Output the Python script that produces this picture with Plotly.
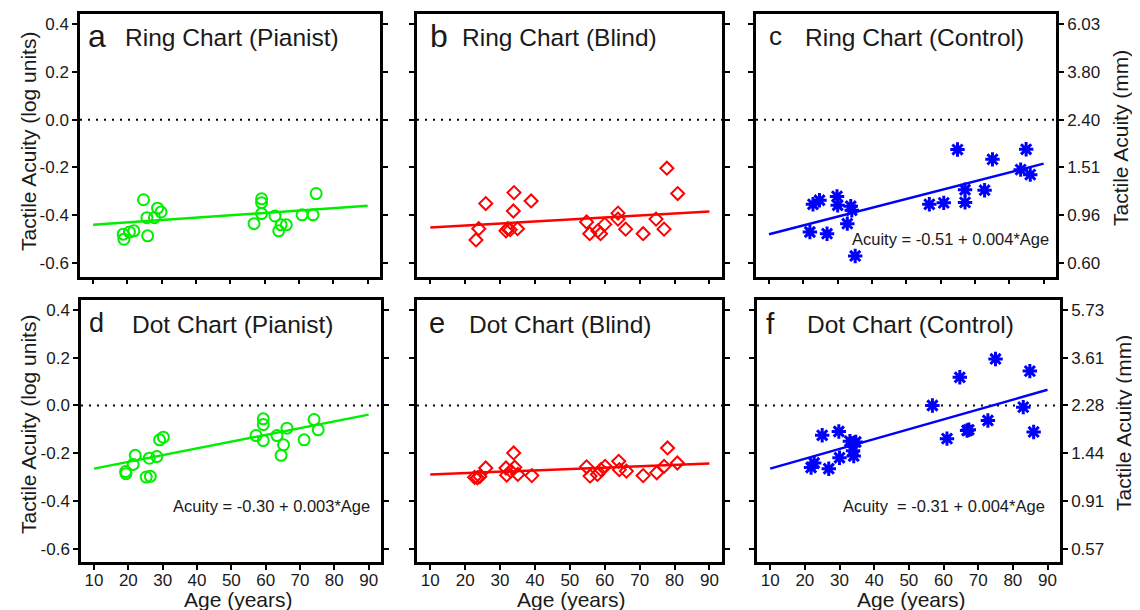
import plotly.graph_objects as go

# ---------------- data ----------------
a_age = [18.8, 19.0, 20.6, 21.9, 24.7, 25.7, 25.9, 27.9, 28.8, 29.8, 56.9, 59.1, 59.1, 59.1, 63.0, 64.1, 64.8, 66.3, 70.9, 74.1, 75.0]
a_acuity = [-0.479, -0.500, -0.470, -0.465, -0.335, -0.410, -0.486, -0.410, -0.370, -0.386, -0.435, -0.331, -0.347, -0.393, -0.403, -0.465, -0.440, -0.440, -0.398, -0.398, -0.309]

b_age = [23.1, 23.9, 25.9, 31.7, 32.2, 32.9, 33.8, 34.0, 35.0, 38.9, 54.8, 55.7, 58.0, 58.8, 60.0, 63.8, 63.8, 66.0, 71.0, 74.7, 77.0, 77.8, 80.9]
b_acuity = [-0.503, -0.456, -0.351, -0.465, -0.456, -0.460, -0.382, -0.305, -0.456, -0.340, -0.428, -0.477, -0.465, -0.477, -0.438, -0.391, -0.416, -0.458, -0.477, -0.416, -0.458, -0.203, -0.309]

c_age = [21.9, 22.8, 24.7, 26.9, 29.8, 30.0, 32.8, 33.8, 34.1, 35.1, 56.7, 60.9, 64.9, 67.1, 67.1, 72.8, 75.1, 83.3, 84.9, 86.1]
c_acuity = [-0.470, -0.354, -0.337, -0.477, -0.321, -0.358, -0.435, -0.362, -0.379, -0.570, -0.354, -0.348, -0.125, -0.293, -0.346, -0.295, -0.166, -0.209, -0.124, -0.230]

d_age = [19.2, 19.3, 21.4, 22.0, 25.2, 26.4, 26.1, 28.3, 29.1, 30.2, 57.2, 59.3, 59.3, 59.3, 63.3, 64.5, 65.2, 66.2, 71.2, 74.1, 75.3]
d_acuity = [-0.277, -0.286, -0.247, -0.209, -0.300, -0.297, -0.221, -0.214, -0.144, -0.133, -0.126, -0.056, -0.080, -0.147, -0.126, -0.209, -0.165, -0.095, -0.144, -0.059, -0.102]

e_age = [22.7, 23.5, 24.2, 25.9, 31.7, 31.9, 33.1, 33.9, 34.2, 35.1, 39.1, 54.8, 55.8, 57.9, 58.9, 60.1, 64.0, 64.2, 66.2, 71.0, 74.9, 77.0, 78.0, 80.8]
e_acuity = [-0.301, -0.303, -0.298, -0.262, -0.262, -0.292, -0.275, -0.199, -0.259, -0.289, -0.294, -0.257, -0.296, -0.289, -0.269, -0.255, -0.234, -0.269, -0.275, -0.294, -0.282, -0.255, -0.178, -0.241]

f_age = [21.8, 22.7, 25.0, 26.9, 29.8, 30.0, 33.0, 34.7, 33.9, 34.1, 56.8, 61.0, 64.7, 66.8, 67.3, 72.8, 75.0, 83.0, 84.9, 86.0]
f_acuity = [-0.260, -0.241, -0.125, -0.265, -0.109, -0.219, -0.150, -0.153, -0.190, -0.212, 0.000, -0.139, 0.118, -0.105, -0.102, -0.063, 0.195, -0.007, 0.144, -0.111]

# regression fits (intercept, slope)
fit_intercepts = {"a": -0.450, "b": -0.459, "c": -0.516, "d": -0.293, "e": -0.295, "f": -0.306}
fit_slopes = {"a": 0.0010, "b": 0.00083, "c": 0.00369, "d": 0.00283, "e": 0.000575, "f": 0.00413}
fit_age_span = [10, 90]

panel_letters = ["a", "b", "c", "d", "e", "f"]
panel_titles = ["Ring Chart (Pianist)", "Ring Chart (Blind)", "Ring Chart (Control)",
                "Dot Chart (Pianist)", "Dot Chart (Blind)", "Dot Chart (Control)"]
equations = {"c": "Acuity = -0.51 + 0.004*Age",
             "d": "Acuity = -0.30 + 0.003*Age",
             "f": "Acuity  = -0.31 + 0.004*Age"}

log_ticks = [-0.6, -0.4, -0.2, 0.0, 0.2, 0.4]
log_tick_labels = ["-0.6", "-0.4", "-0.2", "0.0", "0.2", "0.4"]
ring_mm_labels = ["0.60", "0.96", "1.51", "2.40", "3.80", "6.03"]
dot_mm_labels = ["0.57", "0.91", "1.44", "2.28", "3.61", "5.73"]
age_ticks = [10, 20, 30, 40, 50, 60, 70, 80, 90]

# ---------------- styling ----------------
OFF = 8                      # default page body margin
W, H = 1140 - OFF, 610 - OFF
FONT = "Liberation Sans, Arial, sans-serif"
TXT = "#1a1a1a"
GREEN, RED, BLUE = "#00ee00", "#ff0000", "#0000ff"

def px(x):
    return (x - OFF) / W

def py(y):
    return 1 - (y - OFF) / H

panel_boxes = {  # left, right, top, bottom in screen pixels
    "a": (80, 380, 14, 276.5), "b": (417, 722, 14, 276.5), "c": (756, 1056, 14, 276.5),
    "d": (81, 381, 300, 562), "e": (417, 722, 300, 562), "f": (757, 1060, 300, 562),
}
data = {"a": (a_age, a_acuity), "b": (b_age, b_acuity), "c": (c_age, c_acuity),
        "d": (d_age, d_acuity), "e": (e_age, e_acuity), "f": (f_age, f_acuity)}
colors = {"a": GREEN, "b": RED, "c": BLUE, "d": GREEN, "e": RED, "f": BLUE}

fig = go.Figure()
layout = dict(width=W, height=H, margin=dict(l=0, r=0, t=0, b=0),
              paper_bgcolor="white", plot_bgcolor="white", showlegend=False,
              font=dict(family=FONT, color=TXT))
annotations = []
shapes = []

for i, key in enumerate(panel_letters):
    n = i + 1
    xa = "x" if n == 1 else f"x{n}"
    ya = "y" if n == 1 else f"y{n}"
    xl = "xaxis" if n == 1 else f"xaxis{n}"
    yl = "yaxis" if n == 1 else f"yaxis{n}"
    L, R, T, B = panel_boxes[key]
    ages, vals = data[key]
    col = colors[key]

    if key in ("a", "d"):
        marker = dict(symbol="circle-open", size=11, color=col, line=dict(color=col, width=2))
    elif key in ("b", "e"):
        marker = dict(symbol="diamond-open", size=10, color=col, line=dict(color=col, width=2))
    else:
        marker = dict(symbol="asterisk", size=12, color=col, line=dict(color=col, width=3))

    fig.add_trace(go.Scatter(x=ages, y=vals, mode="markers", marker=marker,
                             xaxis=xa, yaxis=ya, hoverinfo="skip"))
    b0, b1 = fit_intercepts[key], fit_slopes[key]
    fig.add_trace(go.Scatter(x=fit_age_span, y=[b0 + b1 * a for a in fit_age_span], mode="lines",
                             line=dict(color=col, width=2.5), xaxis=xa, yaxis=ya, hoverinfo="skip"))

    bottom_row = key in ("d", "e", "f")
    layout[xl] = dict(domain=[px(L), px(R)], anchor=ya, range=[6.2, 93.6],
                      tickvals=age_ticks, ticktext=[str(t) for t in age_ticks],
                      showticklabels=bottom_row, ticks="outside", ticklen=5, tickwidth=2,
                      ticklabelstandoff=-4,
                      tickcolor="black", showline=True, linecolor="black", linewidth=2.5,
                      mirror=True, showgrid=False, zeroline=False,
                      tickfont=dict(size=17, family=FONT, color=TXT))
    ydict = dict(domain=[py(B), py(T)], anchor=xa, range=[-0.656, 0.442],
                 tickvals=log_ticks, ticks="outside", ticklen=5, tickwidth=2, tickcolor="black",
                 showline=True, linecolor="black", linewidth=2.5, mirror="ticks",
                 showgrid=False, zeroline=False, tickfont=dict(size=17, family=FONT, color=TXT))
    if key in ("a", "d"):
        ydict.update(ticktext=log_tick_labels, showticklabels=True, side="left")
    elif key in ("b", "e"):
        ydict.update(showticklabels=False)
    else:
        ydict.update(side="right", showticklabels=True,
                     ticktext=ring_mm_labels if key == "c" else dot_mm_labels)
    layout[yl] = ydict

    # dotted reference line at 0 log units
    shapes.append(dict(type="line", xref=f"{xa} domain", yref=ya, x0=0, x1=1, y0=0, y1=0,
                       line=dict(color="black", width=2, dash="2px,6px"), layer="below"))

# panel letters and titles
letter_pos = {"a": (86, 36, 32), "b": (428, 36, 32), "c": (767, 36, 26),
              "d": (87, 323, 27), "e": (427, 323, 29), "f": (764, 323, 30)}
title_pos = {"a": 123, "b": 460, "c": 803, "d": 130, "e": 467, "f": 805}
for i, key in enumerate(panel_letters):
    lx, ly, ls = letter_pos[key]
    annotations.append(dict(text=key, x=px(lx), y=py(ly), xref="paper", yref="paper",
                            xanchor="left", yanchor="middle", showarrow=False,
                            font=dict(size=ls, family=FONT, color=TXT)))
    annotations.append(dict(text=panel_titles[i], x=px(title_pos[key]), y=py(ly + 1),
                            xref="paper", yref="paper", xanchor="left", yanchor="middle",
                            showarrow=False, font=dict(size=24.5, family=FONT, color=TXT)))

# equations
eq_pos = {"c": (1051, 239), "d": (372, 506), "f": (1047, 506)}
for key, txt in equations.items():
    ex, ey = eq_pos[key]
    annotations.append(dict(text=txt, x=px(ex), y=py(ey), xref="paper", yref="paper",
                            xanchor="right", yanchor="middle", showarrow=False,
                            font=dict(size=16.5, family=FONT, color=TXT)))

# axis titles
for (x, y) in [(28, 142), (28, 425)]:
    annotations.append(dict(text="Tactile Acuity (log units)", x=px(x), y=py(y), xref="paper",
                            yref="paper", textangle=-90, showarrow=False, xanchor="center",
                            yanchor="middle", font=dict(size=21, family=FONT, color=TXT)))
for (x, y) in [(1121, 138), (1123, 423)]:
    annotations.append(dict(text="Tactile Acuity (mm)", x=px(x), y=py(y), xref="paper",
                            yref="paper", textangle=-90, showarrow=False, xanchor="center",
                            yanchor="middle", font=dict(size=21, family=FONT, color=TXT)))
for x in [238, 571, 911]:
    annotations.append(dict(text="Age (years)", x=px(x), y=py(599), xref="paper", yref="paper",
                            showarrow=False, xanchor="center", yanchor="middle",
                            font=dict(size=21, family=FONT, color=TXT)))

layout["annotations"] = annotations
layout["shapes"] = shapes
fig.update_layout(**layout)
fig.write_html("out.html")
